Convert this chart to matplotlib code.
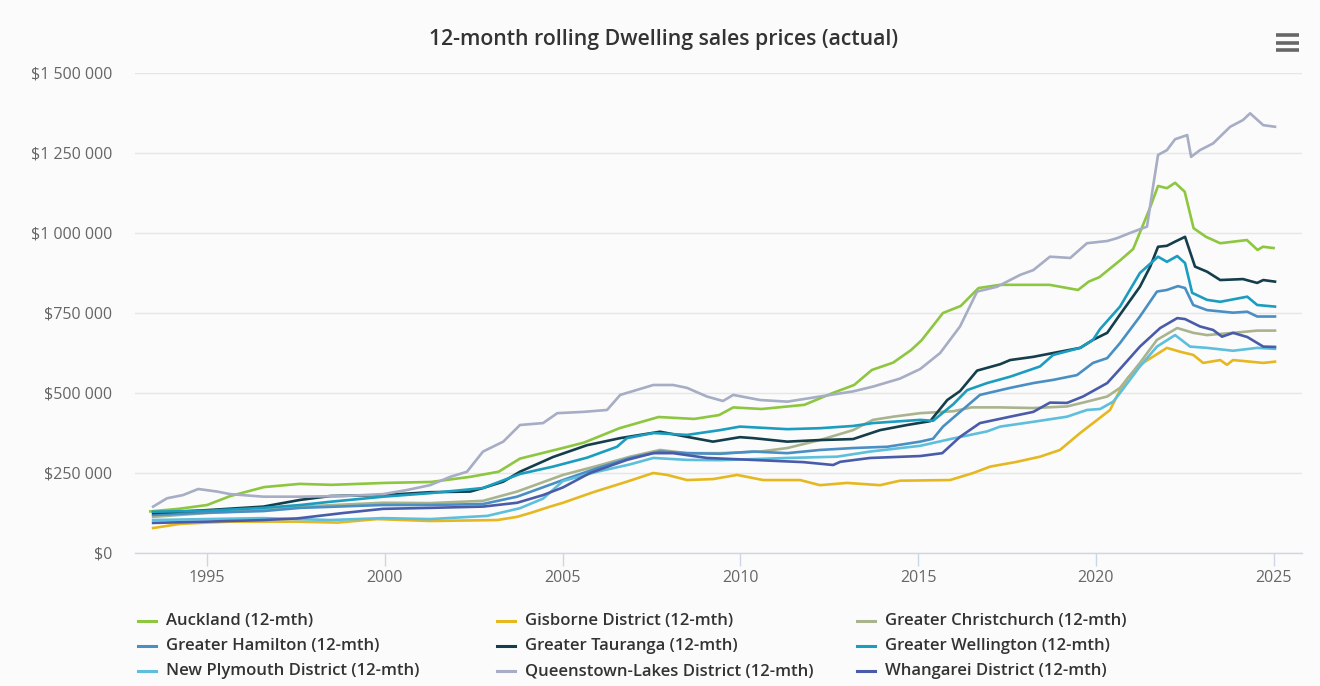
import matplotlib
matplotlib.use("Agg")
import matplotlib.pyplot as plt
from matplotlib.lines import Line2D
from matplotlib.ticker import FuncFormatter

# ---------------- data (values in NZ$ thousands) ----------------
series_names = [
    "Auckland (12-mth)", "Gisborne District (12-mth)", "Greater Christchurch (12-mth)",
    "Greater Hamilton (12-mth)", "Greater Tauranga (12-mth)", "Greater Wellington (12-mth)",
    "New Plymouth District (12-mth)", "Queenstown-Lakes District (12-mth)", "Whangarei District (12-mth)",
]
series_colors = ["#8dc63f", "#e6b820", "#a9b48f", "#4a8fc4", "#143e4b", "#1a9dbf",
                 "#5dbfdc", "#a6adc4", "#4a5ca9"]

auckland_years = [1993.4, 1994.2, 1995.0, 1995.65, 1996.6, 1997.6, 1998.5, 2000.0, 2001.3, 2002.4, 2003.2,
                  2003.8, 2005.0, 2005.6, 2006.6, 2007.7, 2008.7, 2009.4, 2009.8, 2010.6, 2011.8, 2012.6,
                  2013.2, 2013.7, 2014.3, 2014.8, 2015.1, 2015.7, 2016.2, 2016.7, 2017.3, 2018.7, 2019.5,
                  2019.8, 2020.1, 2020.7, 2021.05, 2021.5, 2021.75, 2022.0, 2022.23, 2022.5, 2022.75,
                  2023.1, 2023.5, 2024.25, 2024.55, 2024.7, 2025.0]
auckland_values = [130, 138, 150, 178, 206, 216, 213, 219, 222, 238, 254, 295, 328, 345, 390, 425, 419, 431,
                   455, 450, 463, 500, 525, 572, 595, 634, 665, 750, 772, 828, 838, 838, 822, 848, 862, 916,
                   950, 1072, 1147, 1140, 1157, 1129, 1015, 988, 968, 978, 947, 957, 953]

gisborne_years = [1993.48, 1994.24, 1995.0, 1995.65, 1997.53, 1998.66, 1999.78, 2001.27, 2003.16, 2003.72,
                  2004.09, 2004.65, 2005.01, 2005.86, 2006.81, 2007.55, 2007.94, 2008.5, 2009.23, 2009.91,
                  2010.64, 2011.68, 2012.24, 2013.0, 2013.93, 2014.49, 2015.9, 2016.55, 2017.03, 2017.78,
                  2018.43, 2018.99, 2019.56, 2020.04, 2020.4, 2020.68, 2020.9, 2021.33, 2022.0, 2022.37,
                  2022.74, 2023.02, 2023.5, 2023.69, 2023.86, 2024.71, 2025.04]
gisborne_values = [78, 91, 95, 98, 98, 95, 106, 100, 103, 113, 125, 145, 157, 190, 223, 250, 244, 228, 231,
                   244, 228, 228, 212, 219, 212, 226, 228, 250, 270, 285, 301, 322, 375, 416, 447, 509, 547,
                   594, 641, 629, 619, 594, 603, 588, 603, 594, 598]

christchurch_years = [1993.48, 1995.0, 1996.58, 1997.62, 1999.95, 2001.27, 2002.76, 2003.72, 2005.01, 2005.97,
                      2006.9, 2007.74, 2008.5, 2009.43, 2010.56, 2011.32, 2012.24, 2013.17, 2013.73, 2014.3,
                      2015.06, 2015.99, 2016.5, 2017.31, 2018.24, 2019.19, 2019.75, 2020.32, 2020.68, 2021.24,
                      2021.72, 2022.29, 2022.74, 2023.13, 2023.86, 2024.54, 2025.04]
christchurch_values = [113, 125, 134, 145, 157, 156, 163, 192, 244, 272, 301, 322, 312, 312, 317, 328, 353, 384,
                       416, 426, 437, 443, 455, 455, 453, 458, 473, 489, 516, 594, 666, 703, 688, 681, 688,
                       695, 695]

hamilton_years = [1993.48, 1995.0, 1996.58, 1997.62, 1999.95, 2001.27, 2002.76, 2003.72, 2005.01, 2005.97,
                  2006.9, 2007.74, 2008.5, 2009.43, 2010.36, 2011.32, 2012.24, 2013.17, 2014.13, 2015.06,
                  2015.42, 2015.7, 2016.18, 2016.74, 2017.59, 2018.24, 2018.8, 2019.47, 2019.92, 2020.32,
                  2020.68, 2021.24, 2021.72, 2022.0, 2022.31, 2022.51, 2022.74, 2023.13, 2023.86, 2024.26,
                  2024.54, 2025.04]
hamilton_values = [119, 126, 131, 141, 150, 150, 153, 176, 228, 265, 297, 317, 312, 310, 317, 312, 322, 328,
                   332, 348, 357, 395, 441, 494, 516, 531, 541, 556, 594, 609, 656, 739, 817, 822, 834, 828,
                   775, 759, 751, 754, 739, 739]

tauranga_years = [1993.48, 1995.0, 1996.58, 1997.62, 1998.46, 1999.95, 2001.27, 2002.4, 2002.76, 2003.33,
                  2003.8, 2004.73, 2005.69, 2006.62, 2007.74, 2008.5, 2009.23, 2009.99, 2010.36, 2011.32,
                  2012.24, 2013.17, 2013.93, 2014.69, 2015.34, 2015.82, 2016.18, 2016.66, 2017.31, 2017.59,
                  2018.24, 2018.8, 2019.56, 2019.92, 2020.32, 2020.68, 2021.24, 2021.53, 2021.75, 2022.0,
                  2022.23, 2022.51, 2022.79, 2023.13, 2023.5, 2024.14, 2024.54, 2024.71, 2025.04]
tauranga_values = [125, 134, 145, 166, 178, 181, 190, 192, 203, 223, 254, 300, 337, 359, 379, 363, 348, 362,
                   359, 348, 353, 356, 384, 400, 412, 478, 506, 570, 590, 603, 613, 625, 641, 666, 688, 745,
                   832, 895, 957, 960, 973, 988, 895, 879, 853, 856, 844, 853, 848]

wellington_years = [1993.48, 1995.0, 1996.58, 1997.62, 1998.46, 1999.95, 2001.27, 2002.76, 2003.8, 2004.73,
                    2005.69, 2006.53, 2006.81, 2007.55, 2008.5, 2009.43, 2009.99, 2011.32, 2012.24, 2013.17,
                    2013.73, 2015.06, 2015.42, 2015.99, 2016.38, 2016.94, 2017.59, 2018.43, 2018.8, 2019.56,
                    2019.92, 2020.12, 2020.68, 2021.24, 2021.75, 2022.0, 2022.29, 2022.51, 2022.71, 2023.13,
                    2023.5, 2024.26, 2024.54, 2025.04]
wellington_values = [129, 132, 141, 150, 160, 176, 187, 203, 247, 270, 298, 332, 359, 375, 369, 384, 395, 387,
                     390, 397, 406, 416, 413, 465, 509, 531, 551, 583, 619, 641, 666, 700, 770, 875, 926, 910,
                     928, 906, 813, 791, 785, 801, 775, 770]

new_plymouth_years = [1993.48, 1995.0, 1996.58, 1998.46, 1999.95, 2001.27, 2002.88, 2003.8, 2004.45, 2005.01,
                      2005.97, 2006.9, 2007.55, 2008.5, 2009.43, 2011.32, 2012.72, 2013.65, 2015.06, 2015.99,
                      2016.94, 2017.31, 2018.24, 2019.19, 2019.75, 2020.12, 2020.49, 2020.68, 2021.24, 2021.72,
                      2022.23, 2022.65, 2023.13, 2023.86, 2024.54, 2025.04]
new_plymouth_values = [103, 106, 109, 103, 109, 106, 116, 140, 170, 225, 254, 277, 297, 291, 290, 297, 301, 317,
                       335, 358, 380, 395, 410, 426, 447, 450, 473, 500, 583, 645, 681, 645, 641, 632, 641, 638]

queenstown_years = [1993.48, 1993.87, 1994.32, 1994.75, 1995.28, 1995.65, 1996.58, 1997.62, 1998.83, 1999.95,
                    2000.63, 2001.27, 2001.84, 2002.31, 2002.76, 2003.33, 2003.8, 2004.45, 2004.85, 2005.58,
                    2006.25, 2006.62, 2007.55, 2008.11, 2008.5, 2009.06, 2009.51, 2009.8, 2010.56, 2011.32,
                    2012.24, 2013.17, 2013.73, 2014.49, 2015.06, 2015.62, 2016.18, 2016.66, 2017.22, 2017.87,
                    2018.24, 2018.71, 2019.28, 2019.75, 2020.32, 2020.6, 2020.96, 2021.44, 2021.61, 2021.75,
                    2022.0, 2022.23, 2022.57, 2022.68, 2022.93, 2023.3, 2023.78, 2024.14, 2024.34, 2024.71,
                    2025.04]
queenstown_values = [145, 171, 181, 200, 192, 184, 176, 176, 178, 184, 197, 212, 238, 254, 317, 348, 400, 406,
                     437, 441, 447, 494, 525, 525, 516, 489, 475, 494, 478, 473, 489, 505, 520, 545, 575, 625,
                     708, 817, 832, 869, 884, 926, 922, 968, 975, 984, 1000, 1020, 1145, 1244, 1259, 1293,
                     1306, 1238, 1259, 1280, 1332, 1353, 1374, 1337, 1332]

whangarei_years = [1993.48, 1995.0, 1996.58, 1997.53, 1998.83, 1999.95, 2001.27, 2002.76, 2003.72, 2004.45,
                   2005.01, 2005.77, 2006.81, 2007.55, 2008.11, 2009.06, 2009.91, 2011.77, 2012.61, 2012.81,
                   2013.65, 2015.06, 2015.68, 2016.18, 2016.74, 2017.59, 2018.24, 2018.71, 2019.19, 2019.64,
                   2020.32, 2020.68, 2021.24, 2021.81, 2022.29, 2022.51, 2022.93, 2023.3, 2023.55, 2023.86,
                   2024.26, 2024.71, 2025.04]
whangarei_values = [94, 98, 103, 108, 125, 138, 141, 145, 157, 181, 205, 250, 291, 312, 312, 297, 293, 284,
                    275, 285, 297, 303, 312, 363, 406, 426, 441, 470, 469, 489, 531, 575, 645, 703, 734, 731,
                    708, 697, 676, 688, 675, 645, 644]

x_ticks = [1995, 2000, 2005, 2010, 2015, 2020, 2025]
y_ticks = [0, 250000, 500000, 750000, 1000000, 1250000, 1500000]

series_years = [auckland_years, gisborne_years, christchurch_years, hamilton_years, tauranga_years,
                wellington_years, new_plymouth_years, queenstown_years, whangarei_years]
series_values = [auckland_values, gisborne_values, christchurch_values, hamilton_values, tauranga_values,
                 wellington_values, new_plymouth_values, queenstown_values, whangarei_values]

# ---------------- figure ----------------
W, H = 1320, 686
fig = plt.figure(figsize=(W / 100, H / 100), dpi=100, facecolor="#fbfbfb")
plt.rcParams["font.family"] = ["Open Sans", "DejaVu Sans"]

left, right, top, bottom = 135, 1302, 73, 553
ax = fig.add_axes([left / W, 1 - bottom / H, (right - left) / W, (bottom - top) / H])
ax.set_facecolor("#fbfbfb")

for yrs, vals, col in zip(series_years, series_values, series_colors):
    ax.plot(yrs, [v * 1000 for v in vals], color=col, lw=1.9, solid_joinstyle="round", zorder=3)

ax.set_xlim(1992.97, 2025.8)
ax.set_ylim(0, 1500000)
ax.set_xticks(x_ticks)
ax.set_yticks(y_ticks)
ax.yaxis.set_major_formatter(FuncFormatter(lambda v, p: "$" + f"{int(v):,}".replace(",", " ")))
ax.grid(axis="y", color="#e6e6e6", lw=1, zorder=0)
for s in ["top", "right", "left"]:
    ax.spines[s].set_visible(False)
ax.spines["bottom"].set_color("#ccd6eb")
ax.spines["bottom"].set_linewidth(1)
ax.tick_params(axis="y", length=0, pad=16.5, labelsize=11.5, labelcolor="#666666")
ax.tick_params(axis="x", length=9, width=1, color="#ccd6eb", pad=3, labelsize=11.5, labelcolor="#666666")

# title
fig.text(664 / W, 1 - 40 / H, "12-month rolling Dwelling sales prices (actual)", ha="center", va="center",
         fontsize=15.3, fontweight="semibold", color="#333333")

# hamburger menu icon
for yy in [34.5, 42.5, 50]:
    fig.add_artist(Line2D([1276 / W, 1299 / W], [1 - yy / H, 1 - yy / H], color="#666666", lw=2.6,
                          solid_capstyle="butt"))

# legend
col_x = [138, 497, 857]
row_y = [621, 646, 671]
for i, (name, col) in enumerate(zip(series_names, series_colors)):
    cx = col_x[i % 3]
    ry = row_y[i // 3]
    fig.add_artist(Line2D([cx / W, (cx + 18) / W], [1 - ry / H, 1 - ry / H], color=col, lw=2.2))
    fig.text((cx + 28) / W, 1 - ry / H, name, ha="left", va="center", fontsize=12,
             fontweight="semibold", color="#333333")

fig.savefig("out.png", dpi=100, facecolor=fig.get_facecolor())
